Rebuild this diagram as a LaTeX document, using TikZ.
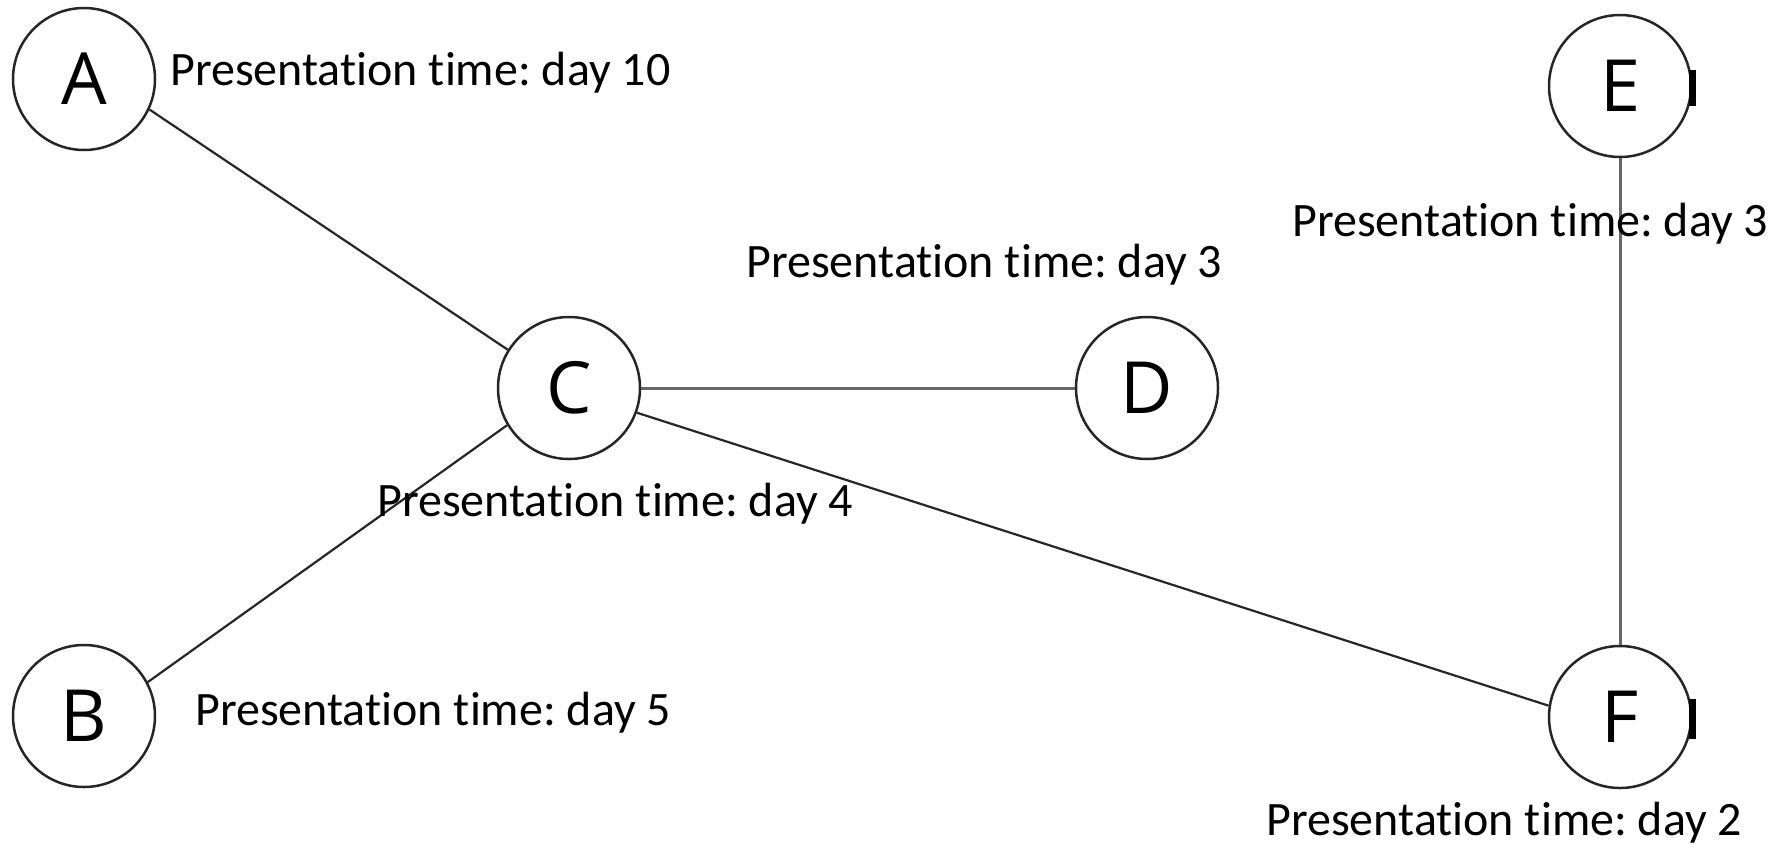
\documentclass[tikz,border=0pt]{standalone}
\usepackage{fontspec}
\setmainfont[Ligatures={NoCommon}]{Carlito}
\newfontfamily\letterfont{Open Sans}
\frenchspacing
\begin{document}
\begin{tikzpicture}[x=1pt,y=-1pt,
  vertex/.style={draw=black!85, line width=2.5pt, circle, minimum size=142pt, inner sep=0pt,
    font=\letterfont\fontsize{72}{72}\selectfont},
  edge/.style={draw=black!85, line width=2.2pt},
  greyedge/.style={draw=black!60, line width=3pt},
  info/.style={anchor=base west, inner sep=0pt, font=\fontsize{48}{48}\selectfont},
  sidebar/.style={fill=black, draw=none}]
\useasboundingbox (0,0) rectangle (1777,844);
\node[vertex] (A) at (84,79) {A};
\node[vertex] (B) at (84,716) {B};
\node[vertex] (C) at (569,388) {C};
\node[vertex] (D) at (1147,388) {D};
\node[vertex] (E) at (1620,86) {E};
\node[vertex] (F) at (1620,717) {F};
\draw[edge] (A.-25) -- (C.148);
\draw[edge] (B.28) -- (C.211);
\draw[greyedge] (C.east) -- (D.west);
\draw[edge] (C.-20) -- (F.171);
\draw[greyedge] (E.south) -- (F.north);
\fill[sidebar] (1689,70) rectangle (1696,106);
\fill[sidebar] (1689,699) rectangle (1696,739);
\node[info] (lA) at (170,85) {Presentation time: day 10};
\node[info] (lD) at (746,277) {Presentation time: day 3};
\node[info] (lC) at (377,516) {Presentation time: day 4};
\node[info] (lB) at (195,725) {Presentation time: day 5};
\node[info] (lE) at (1292,236) {Presentation time: day 3};
\node[info] (lF) at (1266,835) {Presentation time: day 2};
\end{tikzpicture}
\end{document}
